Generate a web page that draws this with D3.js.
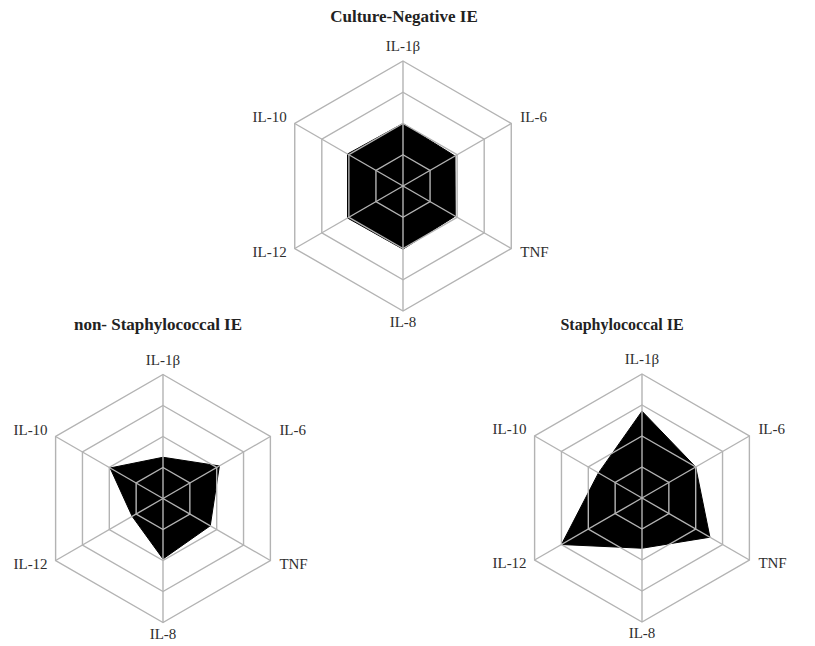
<!DOCTYPE html>
<html>
<head>
<meta charset="utf-8">
<script src="https://cdn.jsdelivr.net/npm/d3@7"></script>
<style>
  html, body { margin: 0; padding: 0; background: #fff; }
  svg { display: block; }
  .title { font-family: "Liberation Serif", "Times New Roman", serif; font-weight: bold; fill: #222; }
  .axis-label { font-family: "Liberation Serif", "Times New Roman", serif; fill: #2e2e2e; }
</style>
</head>
<body>
<svg id="chart" width="815" height="646"></svg>
<script>
// Cytokine axes, clockwise from the top
const cytokines = ["IL-1β", "IL-6", "TNF", "IL-8", "IL-12", "IL-10"];

// Grid levels (four concentric hexagons)
const levels = [1, 2, 3, 4];

// Panel titles
const panelTitles = ["Culture-Negative IE", "non- Staphylococcal IE", "Staphylococcal IE"];

// Relative cytokine levels per group, in cytokine order
const cultureNegative   = [2.0, 1.92, 1.93, 2.02, 2.05, 2.05];
const nonStaphylococcal = [1.33, 2.1, 1.76, 1.95, 1.15, 1.97];
const staphylococcal    = [2.8, 2.0, 2.53, 1.62, 3.0, 1.62];

const panels = [
  { title: panelTitles[0], values: cultureNegative,   cx: 403, cy: 186,   R: 125, tx: 404, ty: 22,  fs: 17 },
  { title: panelTitles[1], values: nonStaphylococcal, cx: 163, cy: 498.5, R: 124, tx: 158, ty: 330, fs: 17 },
  { title: panelTitles[2], values: staphylococcal,    cx: 642, cy: 498,   R: 124, tx: 622, ty: 330, fs: 16 }
];

const svg = d3.select("#chart");
const step = 2 * Math.PI / cytokines.length;
const ang = d => cytokines.indexOf(d) * step;

panels.forEach(p => {
  const r = d3.scaleLinear().domain([0, d3.max(levels)]).range([0, p.R]);
  const g = svg.append("g").attr("transform", `translate(${p.cx},${p.cy})`);

  const radial = d3.lineRadial()
    .angle((d, i) => i * step)
    .radius(d => r(d))
    .curve(d3.curveLinearClosed);

  // Filled data polygon
  g.append("path")
    .attr("d", radial(p.values))
    .attr("fill", "#000")
    .attr("stroke", "#000")
    .attr("stroke-width", 1)
    .attr("stroke-linejoin", "miter");

  // Hexagonal grid rings, drawn over the fill
  g.selectAll(".ring").data(levels).enter().append("path")
    .attr("class", "ring")
    .attr("d", lv => radial(cytokines.map(() => lv)))
    .attr("fill", "none")
    .attr("stroke", "#b3b3b3")
    .attr("stroke-width", 1.4);

  // Spokes
  const maxR = r(d3.max(levels));
  g.selectAll(".spoke").data(cytokines).enter().append("line")
    .attr("class", "spoke")
    .attr("x1", 0).attr("y1", 0)
    .attr("x2", d => maxR * Math.sin(ang(d)))
    .attr("y2", d => -maxR * Math.cos(ang(d)))
    .attr("stroke", "#b3b3b3")
    .attr("stroke-width", 1.4);

  // Axis labels
  g.selectAll(".axis-label").data(cytokines).enter().append("text")
    .attr("class", "axis-label")
    .attr("font-size", 15)
    .attr("x", d => {
      const x = maxR * Math.sin(ang(d));
      if (Math.abs(x) < 1) return x;
      return x > 0 ? x + 9 : x - 8;
    })
    .attr("y", d => {
      const y = -maxR * Math.cos(ang(d));
      const a = ang(d);
      if (a === 0) return y - 10;
      if (Math.abs(a - Math.PI) < 0.01) return y + 16;
      return y < 0 ? y - 2 : y + 8;
    })
    .attr("text-anchor", d => {
      const x = maxR * Math.sin(ang(d));
      if (Math.abs(x) < 1) return "middle";
      return x > 0 ? "start" : "end";
    })
    .text(d => d);

  // Panel title
  svg.append("text")
    .attr("class", "title")
    .attr("x", p.tx).attr("y", p.ty)
    .attr("text-anchor", "middle")
    .attr("font-size", p.fs)
    .text(p.title);
});
</script>
</body>
</html>
